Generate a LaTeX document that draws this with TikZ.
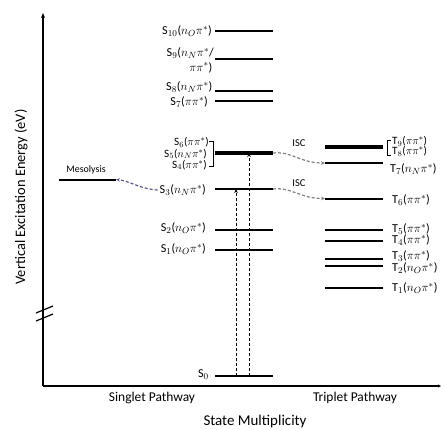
\documentclass[tikz,border=0pt]{standalone}
\usepackage{fontspec}
\setmainfont{Carlito}
\usetikzlibrary{arrows.meta}
\begin{document}
\begin{tikzpicture}[x=1bp,y=-1bp,
  lvl/.style={line width=2bp},
  tlvl/.style={line width=4.5bp},
  axis/.style={line width=1.3bp},
  slab/.style={anchor=east,inner sep=0pt,font=\fontsize{12.2}{12}\selectfont},
  tlab/.style={anchor=west,inner sep=0pt,font=\fontsize{12.2}{12}\selectfont},
  stacked/.style={font=\fontsize{11.2}{11}\selectfont},
  brk/.style={line width=0.9bp},
  iscarrow/.style={draw=gray,line width=1.2bp,dash pattern=on 3bp off 2bp,-{Stealth[length=4bp,width=3.5bp]}},
  mesoarrow/.style={draw=black!40!blue!30!gray,line width=1.2bp,dash pattern=on 3bp off 2bp,-{Stealth[length=4bp,width=3.5bp]}},
  excarrow/.style={line width=1bp,dash pattern=on 3bp off 2bp,-{Stealth[length=4bp,width=3.5bp]}},
  smalltext/.style={inner sep=0pt,font=\fontsize{10}{12}\selectfont},
  isctext/.style={inner sep=0pt,font=\fontsize{10.5}{12}\selectfont},
  axistext/.style={inner sep=0pt,font=\fontsize{13.5}{16}\selectfont}]
\useasboundingbox (0,0) rectangle (441,429);

% axes
\coordinate (origin) at (43,386);
\coordinate (ytop) at (43,13);
\coordinate (xend) at (441,386);
\draw[axis,-{Stealth[length=5bp,width=4bp]}] (origin) -- (ytop);
\draw[axis,-{Stealth[length=3bp,width=3bp]}] (origin) -- (xend);
\coordinate (b1a) at (36,313); \coordinate (b1b) at (53,306);
\coordinate (b2a) at (36,321); \coordinate (b2b) at (53,314);
\draw[line width=1.2bp] (b1a) -- (b1b);
\draw[line width=1.2bp] (b2a) -- (b2b);

\node[axistext,font=\fontsize{14.5}{16}\selectfont,rotate=90] (ylab) at (21,197) {Vertical Excitation Energy (eV)};
\node[axistext] (xlab1) at (152,398) {Singlet Pathway};
\node[axistext] (xlab2) at (355,398) {Triplet Pathway};
\node[axistext,font=\fontsize{15}{17}\selectfont] (xlab3) at (255,422) {State Multiplicity};

% singlet levels
\foreach \n/\y in {s10/30.5, s9/58.5, s8/90.5, s7/100.5, s3/189, s2/229.5, s1/249.5, s0/376}{
  \coordinate (\n l) at (215,\y); \coordinate (\n r) at (273,\y);
  \draw[lvl] (\n l) -- (\n r);
}
\coordinate (s5l) at (215,153); \coordinate (s5r) at (273,153);
\draw[tlvl] (s5l) -- (s5r);

% triplet levels
\foreach \n/\y in {t7/163, t6/198.5, t5/229.5, t4/240.5, t3/258.5, t2/266, t1/288}{
  \coordinate (\n l) at (325,\y); \coordinate (\n r) at (383,\y);
  \draw[lvl] (\n l) -- (\n r);
}
\coordinate (t8l) at (325,147); \coordinate (t8r) at (383,147);
\draw[tlvl] (t8l) -- (t8r);

% mesolysis
\coordinate (mesol) at (59,179.5); \coordinate (mesor) at (116,179.5);
\draw[lvl] (mesol) -- (mesor);
\node[smalltext] (mesolab) at (86,170) {Mesolysis};

% singlet labels
\node[slab] (s10lab) at (212,31) {S$_{10}$($n_O\pi^*$)};
\node[slab] (s9lab) at (214,53) {S$_{9}$($n_N\pi^*$/};
\node[slab] (s9lab2) at (212.5,67.5) {$\pi\pi^*$)};
\node[slab] (s8lab) at (212.5,87) {S$_{8}$($n_N\pi^*$)};
\node[slab] (s7lab) at (208,102) {S$_{7}$($\pi\pi^*$)};
\node[slab,stacked] (s6lab) at (209,142.5) {S$_{6}$($\pi\pi^*$)};
\node[slab,stacked] (s5lab) at (207,154) {S$_{5}$($n_N\pi^*$)};
\node[slab,stacked] (s4lab) at (207,165) {S$_{4}$($\pi\pi^*$)};
\node[slab] (s3lab) at (206,190) {S$_{3}$($n_N\pi^*$)};
\node[slab] (s2lab) at (206,228.5) {S$_{2}$($n_O\pi^*$)};
\node[slab] (s1lab) at (206,249) {S$_{1}$($n_O\pi^*$)};
\node[slab] (s0lab) at (209,374.5) {S$_{0}$};
\coordinate (sbr1) at (209,141); \coordinate (sbr2) at (213,141);
\coordinate (sbr3) at (213,166); \coordinate (sbr4) at (209,166);
\draw[brk] (sbr1) -- (sbr2) -- (sbr3) -- (sbr4);

% triplet labels
\node[tlab,stacked] (t9lab) at (392,141.5) {T$_{9}$($\pi\pi^*$)};
\node[tlab,stacked] (t8lab) at (392,151.5) {T$_{8}$($\pi\pi^*$)};
\node[tlab] (t7lab) at (390,169.5) {T$_{7}$($n_N\pi^*$)};
\node[tlab] (t6lab) at (392,200) {T$_{6}$($\pi\pi^*$)};
\node[tlab] (t5lab) at (392,229) {T$_{5}$($\pi\pi^*$)};
\node[tlab] (t4lab) at (392,240) {T$_{4}$($\pi\pi^*$)};
\node[tlab] (t3lab) at (392,256) {T$_{3}$($\pi\pi^*$)};
\node[tlab] (t2lab) at (392,268.5) {T$_{2}$($n_O\pi^*$)};
\node[tlab] (t1lab) at (392,288) {T$_{1}$($n_O\pi^*$)};
\coordinate (tbr1) at (391,140.5); \coordinate (tbr2) at (387,140.5);
\coordinate (tbr3) at (387,155); \coordinate (tbr4) at (391,155);
\draw[brk] (tbr1) -- (tbr2) -- (tbr3) -- (tbr4);

% ISC
\node[isctext] (isc1) at (299,143) {ISC};
\node[isctext] (isc2) at (299,183) {ISC};
\draw[iscarrow] (s5r) .. controls (292,151) and (300,163) .. (t7l);
\draw[iscarrow] (s3r) .. controls (292,187) and (300,198.5) .. (t6l);

% mesolysis arrow
\draw[mesoarrow] ([xshift=-2bp]s3lab.west) .. controls (140,189) and (130,181) .. (mesor);

% excitation arrows
\coordinate (e1b) at (236,376); \coordinate (e1t) at (236,189);
\coordinate (e2b) at (249,376); \coordinate (e2t) at (249,153);
\draw[excarrow] (e1b) -- (e1t);
\draw[excarrow] (e2b) -- (e2t);
\end{tikzpicture}
\end{document}
